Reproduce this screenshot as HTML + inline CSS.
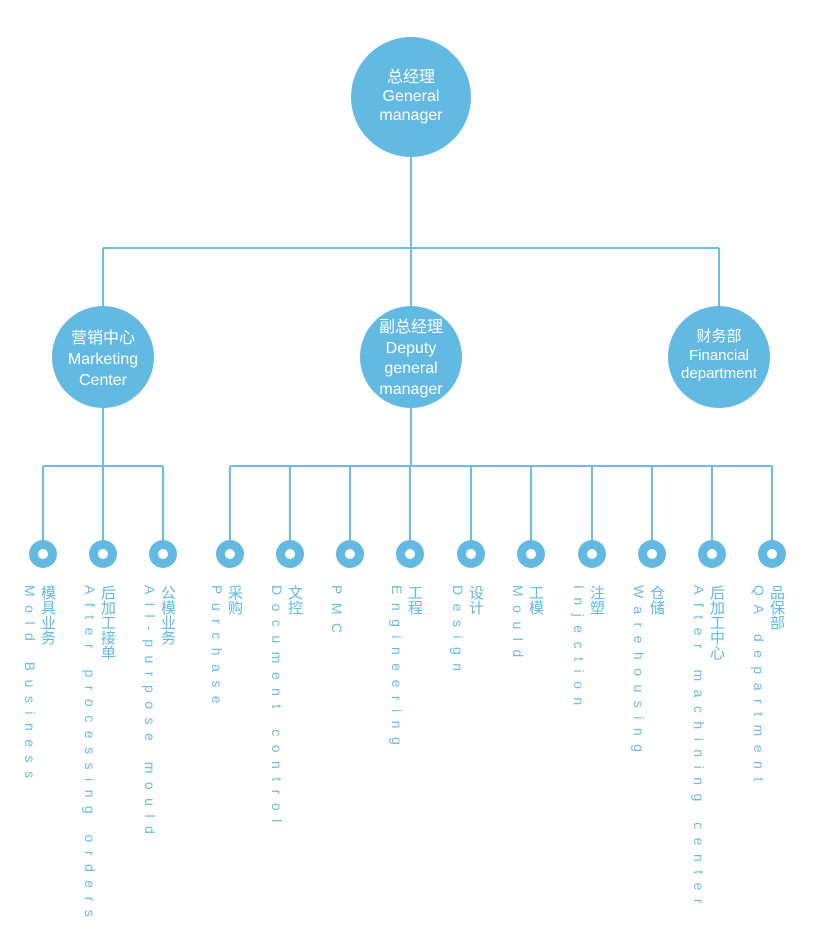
<!DOCTYPE html>
<html><head><meta charset="utf-8"><style>
body{margin:0;width:820px;height:894px;background:#fff;position:relative;overflow:hidden;font-family:"Liberation Sans","Noto Sans CJK SC",sans-serif}
svg{position:absolute;left:0;top:0}
.c{position:absolute;color:#fff;text-align:center;font-size:16px;line-height:20px}
.v{position:absolute;top:585px;writing-mode:vertical-rl;color:#6cbde3;font-size:14px;line-height:18px;letter-spacing:8.5px;white-space:nowrap}
.v b{font-weight:normal;font-size:15px;letter-spacing:0;font-family:"Noto Sans CJK SC",sans-serif;color:#62b9e2}
</style></head><body>
<svg width="820" height="894">
<g stroke="#6cbde3" stroke-width="2" fill="none">
<line x1="411" y1="150" x2="411" y2="249"/>
<line x1="103" y1="248" x2="719" y2="248"/>
<line x1="103" y1="248" x2="103" y2="310"/>
<line x1="719" y1="248" x2="719" y2="310"/>
<line x1="411" y1="248" x2="411" y2="310"/>
<line x1="103" y1="400" x2="103" y2="467"/>
<line x1="411" y1="400" x2="411" y2="467"/>
<line x1="43" y1="466" x2="163" y2="466"/>
<line x1="230" y1="466" x2="772" y2="466"/>
<line x1="43" y1="466" x2="43" y2="545"/><line x1="103" y1="466" x2="103" y2="545"/><line x1="163" y1="466" x2="163" y2="545"/>
<line x1="230" y1="466" x2="230" y2="545"/><line x1="290" y1="466" x2="290" y2="545"/><line x1="350" y1="466" x2="350" y2="545"/>
<line x1="410" y1="466" x2="410" y2="545"/><line x1="471" y1="466" x2="471" y2="545"/><line x1="531" y1="466" x2="531" y2="545"/>
<line x1="592" y1="466" x2="592" y2="545"/><line x1="652" y1="466" x2="652" y2="545"/><line x1="712" y1="466" x2="712" y2="545"/>
<line x1="772" y1="466" x2="772" y2="545"/>
</g>
<g fill="#62b9e2">
<circle cx="411" cy="97" r="60"/>
<circle cx="103" cy="357" r="51"/>
<circle cx="411" cy="357" r="51"/>
<circle cx="719" cy="357" r="51"/>
<circle cx="43" cy="554" r="14"/><circle cx="103" cy="554" r="14"/><circle cx="163" cy="554" r="14"/>
<circle cx="230" cy="554" r="14"/><circle cx="290" cy="554" r="14"/><circle cx="350" cy="554" r="14"/>
<circle cx="410" cy="554" r="14"/><circle cx="471" cy="554" r="14"/><circle cx="531" cy="554" r="14"/>
<circle cx="592" cy="554" r="14"/><circle cx="652" cy="554" r="14"/><circle cx="712" cy="554" r="14"/>
<circle cx="772" cy="554" r="14"/>
</g>
<g fill="#fff">
<circle cx="43" cy="554" r="5"/><circle cx="103" cy="554" r="5"/><circle cx="163" cy="554" r="5"/>
<circle cx="230" cy="554" r="5"/><circle cx="290" cy="554" r="5"/><circle cx="350" cy="554" r="5"/>
<circle cx="410" cy="554" r="5"/><circle cx="471" cy="554" r="5"/><circle cx="531" cy="554" r="5"/>
<circle cx="592" cy="554" r="5"/><circle cx="652" cy="554" r="5"/><circle cx="712" cy="554" r="5"/>
<circle cx="772" cy="554" r="5"/>
</g>
</svg>
<div class="c" style="left:351px;top:68px;width:120px;line-height:19px">总经理<br>General<br>manager</div>
<div class="c" style="left:52px;top:328px;width:102px;line-height:21px">营销中心<br>Marketing<br>Center</div>
<div class="c" style="left:360px;top:318px;width:102px;line-height:20.5px">副总经理<br>Deputy<br>general<br>manager</div>
<div class="c" style="left:668px;top:328px;width:102px;font-size:15px;line-height:18.5px">财务部<br>Financial<br>department</div>
<div class="v" style="right:763px"><b>模具业务</b><br>Mold Business</div>
<div class="v" style="right:703px"><b>后加工接单</b><br>After processing orders</div>
<div class="v" style="right:643px"><b>公模业务</b><br>All-purpose mould</div>
<div class="v" style="right:576px"><b>采购</b><br>Purchase</div>
<div class="v" style="right:516px"><b>文控</b><br>Document control</div>
<div class="v" style="right:456px"><b>&nbsp;</b><br>PMC</div>
<div class="v" style="right:396px"><b>工程</b><br>Engineering</div>
<div class="v" style="right:335px"><b>设计</b><br>Design</div>
<div class="v" style="right:275px"><b>工模</b><br>Mould</div>
<div class="v" style="right:214px"><b>注塑</b><br>Injection</div>
<div class="v" style="right:154px"><b>仓储</b><br>Warehousing</div>
<div class="v" style="right:94px"><b>后加工中心</b><br>After machining center</div>
<div class="v" style="right:34px"><b>品保部</b><br>QA department</div>
</body></html>
